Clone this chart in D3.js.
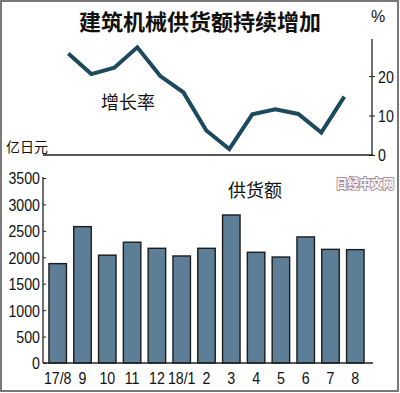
<!DOCTYPE html>
<html><head><meta charset="utf-8">
<script src="https://cdn.jsdelivr.net/npm/d3@7"></script>
<style>
html,body{margin:0;padding:0;background:#fff;}
svg{display:block;}
</style></head>
<body>
<script>
const categories = ["17/8","9","10","11","12","18/1","2","3","4","5","6","7","8"];
const supplyValues = [1880,2580,2040,2285,2170,2025,2170,2800,2095,2005,2385,2150,2145];
const growthValues = [25.7,20.5,22.1,27.3,20.0,15.9,6.2,1.5,10.3,11.6,10.4,5.7,14.8];
const barTicks = [0,500,1000,1500,2000,2500,3000,3500];
const growthTicks = [0,10,20];

const W = 400, H = 393;
const svg = d3.select("body").append("svg").attr("width", W).attr("height", H);
const numFont = "'Liberation Sans',Arial,sans-serif";
const cjkFont = "'Noto Sans CJK SC',sans-serif";

function condense(sel, k) {
  sel.each(function() {
    const len = this.getComputedTextLength();
    d3.select(this).attr("textLength", len * k).attr("lengthAdjust", "spacingAndGlyphs");
  });
}

// frame
svg.append("rect").attr("x",1).attr("y",1).attr("width",W-3).attr("height",H-3)
  .attr("fill","none").attr("stroke","#7a7a7a").attr("stroke-width",2);

// title
svg.append("text").attr("x",200).attr("y",30).attr("text-anchor","middle")
  .attr("font-family",cjkFont).attr("font-weight","bold").attr("font-size",22)
  .attr("fill","#111").text("建筑机械供货额持续增加");

// ---- bar chart ----
const x = d3.scaleBand().domain(categories).range([43,370]).paddingInner(0.295).paddingOuter(0.24);
const yBar = d3.scaleLinear().domain([0,3500]).range([363,178]);

svg.append("g").selectAll("rect").data(categories).join("rect")
  .attr("x", d => x(d)).attr("width", x.bandwidth())
  .attr("y", (d,i) => yBar(supplyValues[i]))
  .attr("height", (d,i) => yBar(0) - yBar(supplyValues[i]))
  .attr("fill","#5d7e97").attr("stroke","#1c1c1c").attr("stroke-width",1.4);

const yAxis = svg.append("g").attr("transform","translate(43,0)")
  .call(d3.axisLeft(yBar).tickValues(barTicks).tickSize(-3).tickPadding(3).tickFormat(d3.format("d")));
yAxis.select(".domain").attr("d","M0,177V363").attr("stroke","#222").attr("stroke-width",1.3);
yAxis.selectAll("line").attr("stroke","#222");
yAxis.selectAll("text").attr("font-family",numFont).attr("font-size",16.5).attr("fill","#111").attr("dy","0.36em")
  .call(condense, 0.86);

svg.append("line").attr("x1",43).attr("x2",373).attr("y1",363).attr("y2",363)
  .attr("stroke","#222").attr("stroke-width",1.3);

const xAxis = svg.append("g").attr("transform","translate(0,363)")
  .call(d3.axisBottom(x).tickSize(0).tickPadding(6));
xAxis.select(".domain").remove();
xAxis.selectAll("text").attr("font-family",numFont).attr("font-size",16.5).attr("fill","#111").attr("dy","0.9em")
  .call(condense, 0.86);

svg.append("text").attr("x",255).attr("y",197).attr("text-anchor","middle")
  .attr("font-family",cjkFont).attr("font-size",18).attr("fill","#111").text("供货额");

// ---- line chart ----
const xLine = d3.scalePoint().domain(categories).range([68.3,344.3]);
const yLine = d3.scaleLinear().domain([0,29.4]).range([155,39]);

svg.append("line").attr("x1",43).attr("x2",373).attr("y1",155).attr("y2",155)
  .attr("stroke","#222").attr("stroke-width",1.3);

const rAxis = svg.append("g").attr("transform","translate(372,0)")
  .call(d3.axisRight(yLine).tickValues(growthTicks).tickSize(3).tickPadding(3));
rAxis.select(".domain").attr("d","M0,39V155").attr("stroke","#222").attr("stroke-width",1.3);
rAxis.selectAll("line").attr("stroke","#222").attr("x1",-3);
rAxis.selectAll("text").attr("font-family",numFont).attr("font-size",16.5).attr("fill","#111").attr("dy","0.36em")
  .call(condense, 0.86);

svg.append("text").attr("x",371).attr("y",22).attr("font-family",numFont)
  .attr("font-size",16).attr("fill","#111").text("%");

const line = d3.line().x((d,i) => xLine(categories[i])).y(d => yLine(d));
svg.append("path").datum(growthValues).attr("d",line)
  .attr("fill","none").attr("stroke","#1c4a5c").attr("stroke-width",4)
  .attr("stroke-linejoin","miter").attr("stroke-linecap","butt");

svg.append("text").attr("x",128).attr("y",109).attr("text-anchor","middle")
  .attr("font-family",cjkFont).attr("font-size",18).attr("fill","#111").text("增长率");

svg.append("text").attr("x",6).attr("y",152)
  .attr("font-family",cjkFont).attr("font-size",14).attr("fill","#111").text("亿日元");

// watermark
svg.append("text").attr("x",365).attr("y",188).attr("text-anchor","middle")
  .attr("font-family",cjkFont).attr("font-weight","900").attr("font-size",13)
  .attr("fill","#f6f0f2").attr("stroke","#9a7c84").attr("stroke-width",1.6)
  .attr("paint-order","stroke").text("日经中文网")
  .call(condense, 0.9);
</script>
</body></html>
